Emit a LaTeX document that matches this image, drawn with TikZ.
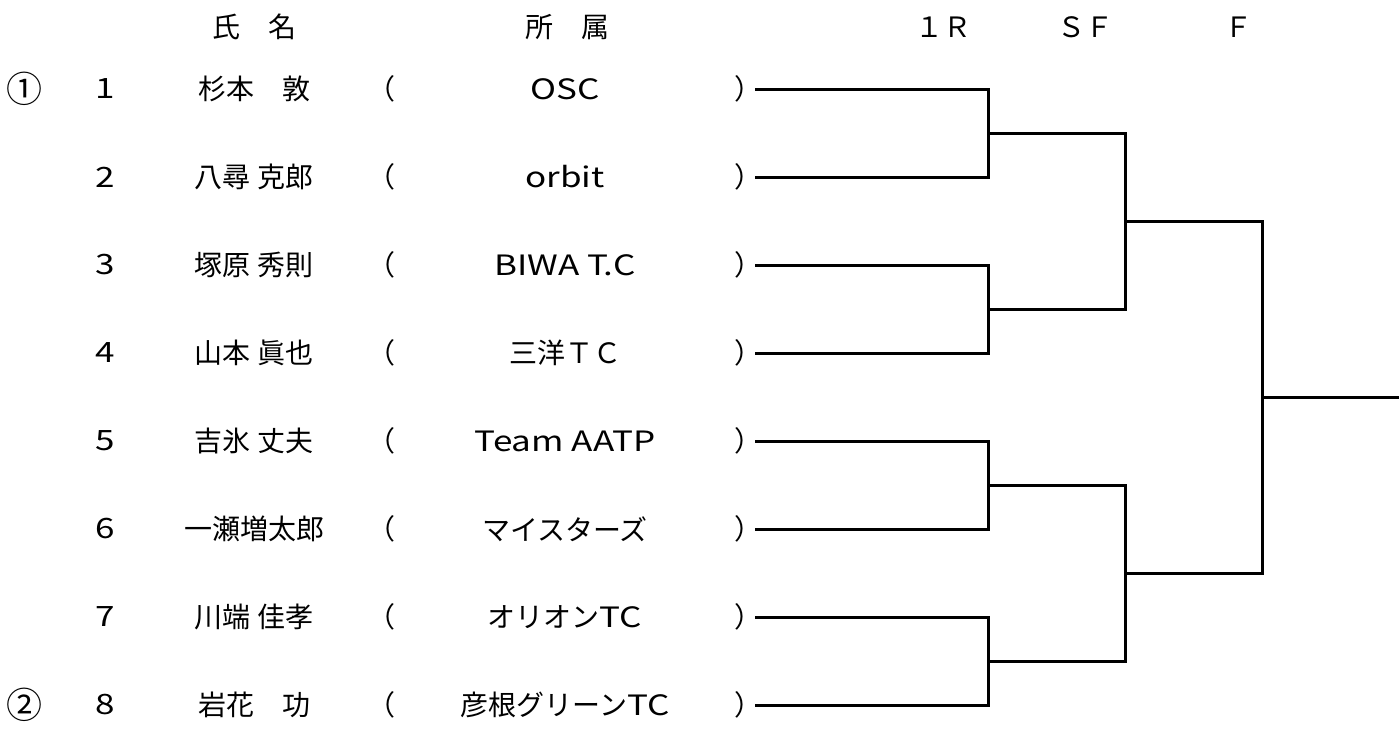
\documentclass[tikz,border=0pt]{standalone}
\usepackage{fontspec}
\setmainfont{Noto Sans CJK JP}
\newfontfamily\lat[FakeStretch=1.25]{Noto Sans CJK JP}
\begin{document}
\begin{tikzpicture}[x=1pt,y=-1pt,
  txt/.style={inner sep=0pt,font=\fontsize{28}{30}\selectfont},
  seed/.style={inner sep=0pt,font=\fontsize{36}{38}\selectfont},
  br/.style={line width=3pt,line cap=rect}]
\useasboundingbox (0,0) rectangle (1399,731);
% headers
\node[txt] (h1) at (254,27) {氏　名};
\node[txt] (h2) at (567,27) {所　属};
\node[txt] (h3) at (943,27) {１Ｒ};
\node[txt] (h4) at (1085,27) {ＳＦ};
\node[txt] (h5) at (1238,27) {Ｆ};
% seeds
\node[seed] (s1) at (24,89) {①};
\node[seed] (s2) at (24,705) {②};
% rows
\foreach \i/\nm/\cl in {1/杉本　敦/{\lat OSC},2/八尋 克郎/{\lat orbit},3/塚原 秀則/{\lat BIWA T.C},4/山本 眞也/三洋ＴＣ,5/吉氷 丈夫/{\lat Team AATP},6/一瀬増太郎/マイスターズ,7/川端 佳孝/オリオン{\lat TC},8/岩花　功/彦根グリーン{\lat TC}}{
  \pgfmathsetmacro{\yy}{89+(\i-1)*88}
  \node[txt] (n\i) at (105,\yy) {\lat\i};
  \node[txt] (p\i) at (254,\yy) {\nm};
  \node[txt] (l\i) at (381,\yy) {（};
  \node[txt] (c\i) at (565,\yy) {\cl};
  \node[txt] (r\i) at (748,\yy) {）};
  \coordinate (e\i) at (988,\yy);
}
% bracket junctions
\coordinate (a1) at (988,133);
\coordinate (a2) at (988,309.5);
\coordinate (a3) at (988,485);
\coordinate (a4) at (988,661);
\coordinate (b1) at (1125,133);
\coordinate (b2) at (1125,309.5);
\coordinate (b3) at (1125,485);
\coordinate (b4) at (1125,661);
\coordinate (m1) at (1125,221);
\coordinate (m2) at (1125,573);
\coordinate (f1) at (1262,221);
\coordinate (f2) at (1262,573);
\coordinate (w) at (1262,397);
\coordinate (win) at (1399,397);
\foreach \i in {1,...,8}{
  \draw[br] ([xshift=8pt]r\i.center) -- (e\i);
}
\draw[br] (e1) -- (e2);
\draw[br] (e3) -- (e4);
\draw[br] (e5) -- (e6);
\draw[br] (e7) -- (e8);
\draw[br] (a1) -- (b1) -- (b2) -- (a2);
\draw[br] (a3) -- (b3) -- (b4) -- (a4);
\draw[br] (m1) -- (f1) -- (f2) -- (m2);
\draw[br] (w) -- (win);
\end{tikzpicture}
\end{document}
